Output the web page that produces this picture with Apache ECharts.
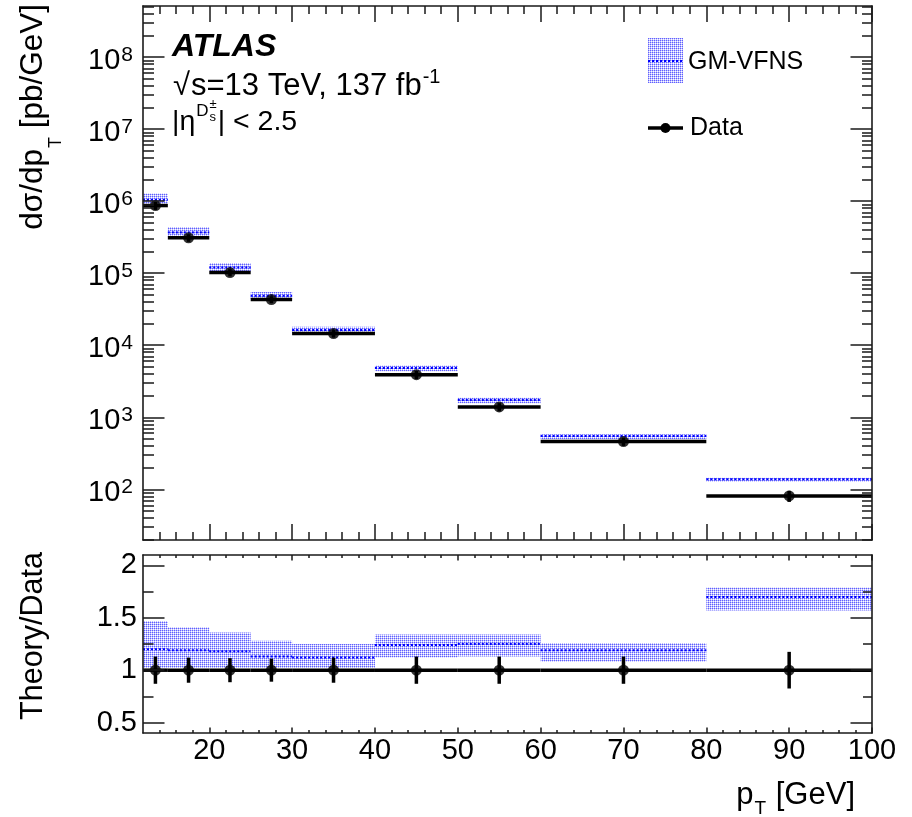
<!DOCTYPE html>
<html>
<head>
<meta charset="utf-8">
<script src="https://cdn.jsdelivr.net/npm/echarts@6/dist/echarts.min.js"></script>
<style>html,body{margin:0;padding:0;background:#fff}#c{width:912px;height:817px}</style>
</head>
<body>
<div id="c"></div>
<script>
// ---- data ----
const binLow = [12, 15, 20, 25, 30, 40, 50, 60, 80];
const binHigh = [15, 20, 25, 30, 40, 50, 60, 80, 100];
const binCenter = [13.5, 17.5, 22.5, 27.5, 35, 45, 55, 70, 90];
const dataXsec = [8.7e5, 3.1e5, 1.02e5, 4.3e4, 1.45e4, 3.9e3, 1.39e3, 4.6e2, 81];   // pb/GeV
const dataRelErr = [0.13, 0.12, 0.115, 0.11, 0.12, 0.13, 0.13, 0.13, 0.175];
const theoryRatio = [1.20, 1.19, 1.18, 1.13, 1.12, 1.24, 1.25, 1.19, 1.70];
const theoryRatioLow = [1.02, 1.02, 1.02, 1.02, 1.02, 1.12, 1.13, 1.08, 1.57];
const theoryRatioHigh = [1.47, 1.41, 1.36, 1.28, 1.25, 1.34, 1.34, 1.26, 1.79];

// ---- axis ticks ----
const xMajorTicks = [20, 30, 40, 50, 60, 70, 80, 90, 100];
const xMinorTicks = [14, 16, 18, 22, 24, 26, 28, 32, 34, 36, 38, 42, 44, 46, 48, 52, 54, 56, 58,
  62, 64, 66, 68, 72, 74, 76, 78, 82, 84, 86, 88, 92, 94, 96, 98];
const yMajorTicks = [1e2, 1e3, 1e4, 1e5, 1e6, 1e7, 1e8];
const yMinorMantissa = [2, 3, 4, 5, 6, 7, 8, 9];
const yMinorDecades = [1e1, 1e2, 1e3, 1e4, 1e5, 1e6, 1e7, 1e8];
const ratioMajorTicks = [0.5, 1, 1.5, 2];
const ratioMinorTicks = [0.75, 1.25, 1.75];

const xMin = 12, xMax = 100;
const yMin = 19.77, yMax = 5.13e8;
const rMin = 0.4, rMax = 2.1;

const yMinorTicks = [];
yMinorDecades.forEach(d => yMinorMantissa.forEach(m => yMinorTicks.push(m * d)));

const FONT = 'Liberation Sans';
const INK = '#1a1a1a';

function makePattern() {
  const c = document.createElement('canvas');
  c.width = 2; c.height = 2;
  const g = c.getContext('2d');
  g.fillStyle = '#ffffff'; g.fillRect(0, 0, 2, 2);
  g.fillStyle = '#6060ff'; g.fillRect(0, 0, 1, 1);
  g.fillStyle = '#c0c0ff'; g.fillRect(1, 0, 1, 1); g.fillRect(0, 1, 1, 1);
  return c;
}
const patternCanvas = makePattern();
const bandFill = { image: patternCanvas, repeat: 'repeat' };

const mctx = document.createElement('canvas').getContext('2d');
function tw(s, size, weight, style) {
  mctx.font = (style || 'normal') + ' ' + (weight || 'normal') + ' ' + size + 'px "' + FONT + '"';
  return mctx.measureText(s).width;
}

// ---- axes helpers ----
function tickStyle() { return { color: INK, width: 1.5 }; }
function xAx(grid, pos, ticks, len, line, label) {
  return {
    type: 'value', gridIndex: grid, position: pos, min: xMin, max: xMax, z: 10,
    axisLine: { show: !!line, onZero: false, lineStyle: { color: INK, width: 1.6 } },
    axisTick: { show: true, inside: true, length: len, customValues: ticks, lineStyle: tickStyle() },
    axisLabel: label ? label : { show: false },
    splitLine: { show: false }
  };
}
function yAx(grid, pos, type, min, max, ticks, len, line, label) {
  return {
    type: type, gridIndex: grid, position: pos, min: min, max: max, z: 10,
    axisLine: { show: !!line, onZero: false, lineStyle: { color: INK, width: 1.6 } },
    axisTick: { show: true, inside: true, length: len, customValues: ticks, lineStyle: tickStyle() },
    axisLabel: label ? label : { show: false },
    splitLine: { show: false }
  };
}

const xAxes = [
  xAx(0, 'bottom', xMajorTicks, 16, true),
  xAx(0, 'bottom', xMinorTicks, 8, false),
  xAx(0, 'top', xMajorTicks, 16, true),
  xAx(0, 'top', xMinorTicks, 8, false),
  xAx(1, 'bottom', xMajorTicks, 5.5, true, {
    show: true, customValues: xMajorTicks, margin: 3,
    fontFamily: FONT, fontSize: 29, color: '#000'
  }),
  xAx(1, 'bottom', xMinorTicks, 3, false),
  xAx(1, 'top', xMajorTicks, 5.5, true),
  xAx(1, 'top', xMinorTicks, 3, false)
];

const yAxes = [
  yAx(0, 'left', 'log', yMin, yMax, yMajorTicks, 21.5, true, {
    show: true, customValues: yMajorTicks, margin: 10,
    formatter: v => '{b|10}{s|' + Math.round(Math.log10(v)) + '}',
    rich: {
      b: { fontFamily: FONT, fontSize: 29, color: '#000', verticalAlign: 'top', padding: [8, 0, 0, 0] },
      s: { fontFamily: FONT, fontSize: 21, color: '#000', verticalAlign: 'top', padding: [6, 0, 0, 1] }
    }
  }),
  yAx(0, 'left', 'log', yMin, yMax, yMinorTicks, 11, false),
  yAx(0, 'right', 'log', yMin, yMax, yMajorTicks, 21.5, true),
  yAx(0, 'right', 'log', yMin, yMax, yMinorTicks, 10, false),
  yAx(1, 'left', 'value', rMin, rMax, ratioMajorTicks, 21.5, true, {
    show: true, customValues: ratioMajorTicks, margin: 6,
    fontFamily: FONT, fontSize: 29, color: '#000',
    formatter: v => String(v)
  }),
  yAx(1, 'left', 'value', rMin, rMax, ratioMinorTicks, 10.5, false),
  yAx(1, 'right', 'value', rMin, rMax, ratioMajorTicks, 21.5, true),
  yAx(1, 'right', 'value', rMin, rMax, ratioMinorTicks, 9, false)
];

// ---- series data ----
const bandTop = binLow.map((lo, i) => [lo, binHigh[i],
  dataXsec[i] * theoryRatioLow[i], dataXsec[i] * theoryRatioHigh[i], dataXsec[i] * theoryRatio[i]]);
const bandRatio = binLow.map((lo, i) => [lo, binHigh[i],
  theoryRatioLow[i], theoryRatioHigh[i], theoryRatio[i]]);
const dataTop = binLow.map((lo, i) => [lo, binHigh[i], binCenter[i],
  dataXsec[i], dataXsec[i] * (1 - dataRelErr[i]), dataXsec[i] * (1 + dataRelErr[i])]);
const dataRatio = binLow.map((lo, i) => [lo, binHigh[i], binCenter[i],
  1, 1 - dataRelErr[i], 1 + dataRelErr[i]]);

function renderBand(params, api) {
  const p0 = api.coord([api.value(0), api.value(3)]);
  const p1 = api.coord([api.value(1), api.value(2)]);
  const c0 = api.coord([api.value(0), api.value(4)]);
  const c1 = api.coord([api.value(1), api.value(4)]);
  return {
    type: 'group', children: [
      { type: 'rect', shape: { x: p0[0], y: p0[1], width: p1[0] - p0[0], height: Math.max(p1[1] - p0[1], 1) },
        style: { fill: bandFill } },
      { type: 'line', shape: { x1: c0[0], y1: c0[1], x2: c1[0], y2: c1[1] },
        style: { stroke: '#0000ff', lineWidth: 2, lineDash: [2, 2] } }
    ]
  };
}
function renderData(params, api) {
  const a = api.coord([api.value(0), api.value(3)]);
  const b = api.coord([api.value(1), api.value(3)]);
  const e1 = api.coord([api.value(2), api.value(4)]);
  const e2 = api.coord([api.value(2), api.value(5)]);
  return {
    type: 'group', children: [
      { type: 'line', shape: { x1: a[0], y1: a[1], x2: b[0], y2: b[1] }, style: { stroke: '#000', lineWidth: 3.5 } },
      { type: 'line', shape: { x1: e1[0], y1: e1[1], x2: e2[0], y2: e2[1] }, style: { stroke: '#000', lineWidth: 3.5 } }
    ]
  };
}

const series = [
  { type: 'custom', name: 'GM-VFNS', xAxisIndex: 0, yAxisIndex: 0, clip: true, data: bandTop,
    encode: { x: [0, 1], y: [2, 3, 4] }, renderItem: renderBand, z: 2 },
  { type: 'custom', name: 'Data', xAxisIndex: 0, yAxisIndex: 0, clip: true, data: dataTop,
    encode: { x: [0, 1, 2], y: [3, 4, 5] }, renderItem: renderData, z: 3 },
  { type: 'scatter', xAxisIndex: 0, yAxisIndex: 0, symbol: 'circle', symbolSize: 11,
    itemStyle: { color: '#000' }, data: binCenter.map((c, i) => [c, dataXsec[i]]), z: 4 },
  { type: 'custom', xAxisIndex: 4, yAxisIndex: 4, clip: true, data: bandRatio,
    encode: { x: [0, 1], y: [2, 3, 4] }, renderItem: renderBand, z: 2 },
  { type: 'custom', xAxisIndex: 4, yAxisIndex: 4, clip: true, data: dataRatio,
    encode: { x: [0, 1, 2], y: [3, 4, 5] }, renderItem: renderData, z: 3 },
  { type: 'scatter', xAxisIndex: 4, yAxisIndex: 4, symbol: 'circle', symbolSize: 11,
    itemStyle: { color: '#000' }, data: binCenter.map(c => [c, 1]), z: 4 }
];

// ---- text annotations ----
function T(x, y, text, size, extra, styleExtra) {
  return Object.assign({ type: 'text', x: x, y: y, silent: true, z: 20,
    style: Object.assign({ text: text, fontSize: size, fontFamily: FONT, fill: '#000',
      align: 'left', verticalAlign: 'middle' }, styleExtra || {}) }, extra || {});
}
const graphics = [];
// ATLAS
graphics.push(T(172, 47, 'ATLAS', 32, null, { fontWeight: 'bold', fontStyle: 'italic' }));
// sqrt(s)
const sRoot = '\u221A', sLine = 's=13 TeV, 137 fb';
graphics.push(T(173, 86, sRoot, 31));
const sX = 173 + tw(sRoot, 31) + 1;
graphics.push(T(sX, 86, sLine, 31));
graphics.push(T(sX + tw(sLine, 31) + 1, 77, '-1', 20));
// |eta| < 2.5
graphics.push(T(172, 122, '|\u03B7', 28.5));
const etaEnd = 172 + tw('|\u03B7', 28.5);
graphics.push(T(etaEnd + 1, 111, 'D', 17));
graphics.push(T(etaEnd + 1 + tw('D', 17) + 1, 104, '\u00B1', 13));
graphics.push(T(etaEnd + 1 + tw('D', 17) + 1, 117, 's', 13));
graphics.push(T(etaEnd + 1 + tw('D', 17) + 1 + tw('\u00B1', 13) + 1, 122, '| < 2.5', 28.5));

// y title (rotated, reads bottom to top, ends at top)
const yt3 = ' [pb/GeV]', yt2 = 'T', yt1 = 'd\u03C3/dp';
const yTop = 4, yFs = 31.5;
graphics.push(T(33, yTop, yt3, yFs, { rotation: Math.PI / 2 }, { align: 'right' }));
graphics.push(T(56, yTop + tw(yt3, yFs), yt2, 18, { rotation: Math.PI / 2 }, { align: 'right' }));
graphics.push(T(33, yTop + tw(yt3, yFs) + tw(yt2, 18) + 1, yt1, yFs, { rotation: Math.PI / 2 }, { align: 'right' }));
// ratio title
graphics.push(T(34, 636, 'Theory/Data', 30.5, { rotation: Math.PI / 2 }, { align: 'center' }));
// x title
const xt3 = ' [GeV]', xFs = 31;
const xRight = 855;
graphics.push(T(xRight, 795, xt3, xFs, null, { align: 'right' }));
graphics.push(T(xRight - tw(xt3, xFs) - 1, 809, 'T', 19, null, { align: 'right' }));
graphics.push(T(xRight - tw(xt3, xFs) - tw('T', 19) - 2, 795, 'p', xFs, null, { align: 'right' }));

// legend
graphics.push({ type: 'rect', silent: true, z: 20, shape: { x: 648, y: 38, width: 35, height: 45 }, style: { fill: bandFill } });
graphics.push({ type: 'line', silent: true, z: 21, shape: { x1: 648, y1: 61, x2: 683, y2: 61 },
  style: { stroke: '#0000ff', lineWidth: 2, lineDash: [2, 2] } });
graphics.push(T(688, 62, 'GM-VFNS', 25));
graphics.push({ type: 'line', silent: true, z: 20, shape: { x1: 648, y1: 128, x2: 683, y2: 128 },
  style: { stroke: '#000', lineWidth: 3.5 } });
graphics.push({ type: 'circle', silent: true, z: 21, shape: { cx: 665.5, cy: 128, r: 5 }, style: { fill: '#000' } });
graphics.push(T(690, 128, 'Data', 25));

const chart = echarts.init(document.getElementById('c'), null, { renderer: 'canvas' });
chart.setOption({
  animation: false,
  backgroundColor: '#ffffff',
  grid: [
    { left: 143, top: 6, width: 729, height: 534, containLabel: false },
    { left: 143, top: 555, width: 729, height: 178, containLabel: false }
  ],
  xAxis: xAxes,
  yAxis: yAxes,
  series: series,
  graphic: graphics
});
</script>
</body>
</html>
